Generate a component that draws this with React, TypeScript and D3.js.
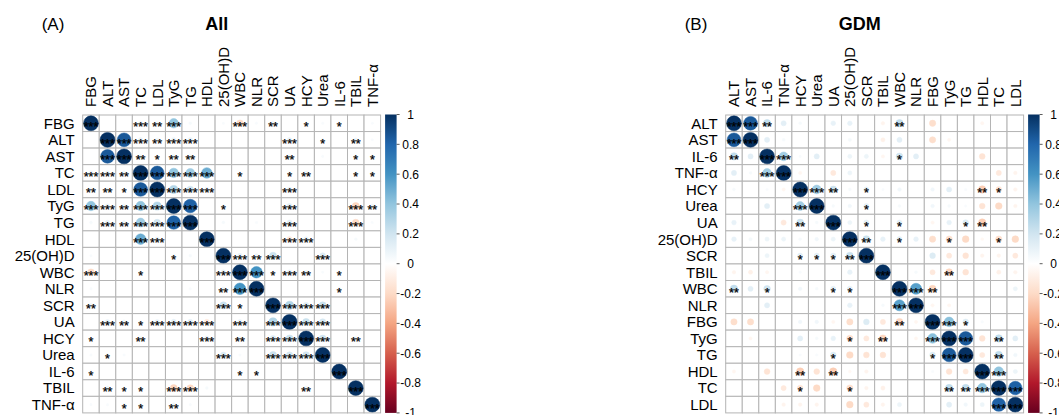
import React from "react";
import * as d3 from "d3";

// variable order of each panel
const labelsAll = ["FBG", "ALT", "AST", "TC", "LDL", "TyG", "TG", "HDL", "25(OH)D", "WBC", "NLR", "SCR", "UA", "HCY", "Urea", "IL-6", "TBIL", "TNF-α"];
const labelsGDM = ["ALT", "AST", "IL-6", "TNF-α", "HCY", "Urea", "UA", "25(OH)D", "SCR", "TBIL", "WBC", "NLR", "FBG", "TyG", "TG", "HDL", "TC", "LDL"];

// [var1, var2, r, significance]  (matrix is symmetric, diagonal = 1)
type Pair = [string, string, number, string];

const pairsAll: Pair[] = [
  ["AST", "ALT", 0.85, "***"],
  ["TC", "FBG", 0.08, "***"], ["TC", "ALT", 0.09, "***"], ["TC", "AST", 0.07, "**"],
  ["LDL", "FBG", 0.06, "**"], ["LDL", "ALT", 0.06, "**"], ["LDL", "AST", 0.05, "*"], ["LDL", "TC", 0.85, "***"],
  ["TyG", "FBG", 0.4, "***"], ["TyG", "ALT", 0.09, "***"], ["TyG", "AST", 0.07, "**"], ["TyG", "TC", 0.4, "***"], ["TyG", "LDL", 0.3, "***"],
  ["TG", "FBG", 0.04, ""], ["TG", "ALT", 0.1, "***"], ["TG", "AST", 0.07, "**"], ["TG", "TC", 0.36, "***"], ["TG", "LDL", 0.2, "***"], ["TG", "TyG", 0.82, "***"],
  ["HDL", "TC", 0.5, "***"], ["HDL", "LDL", 0.09, "***"],
  ["25(OH)D", "FBG", 0.03, ""], ["25(OH)D", "TyG", 0.05, "*"], ["25(OH)D", "TG", 0.04, ""],
  ["WBC", "FBG", -0.2, "***"], ["WBC", "TC", 0.05, "*"], ["WBC", "25(OH)D", 0.1, "***"],
  ["NLR", "FBG", 0.03, ""], ["NLR", "TG", 0.03, ""], ["NLR", "25(OH)D", 0.07, "**"], ["NLR", "WBC", 0.6, "***"],
  ["SCR", "FBG", 0.07, "**"], ["SCR", "25(OH)D", 0.22, "***"], ["SCR", "WBC", 0.05, "*"],
  ["UA", "ALT", 0.1, "***"], ["UA", "AST", 0.07, "**"], ["UA", "TC", 0.05, "*"], ["UA", "LDL", 0.1, "***"], ["UA", "TyG", 0.12, "***"],
  ["UA", "TG", 0.12, "***"], ["UA", "HDL", -0.12, "***"], ["UA", "WBC", 0.1, "***"], ["UA", "SCR", 0.3, "***"],
  ["HCY", "FBG", 0.05, "*"], ["HCY", "TC", 0.07, "**"], ["HCY", "HDL", 0.1, "***"], ["HCY", "WBC", 0.07, "**"], ["HCY", "SCR", 0.15, "***"], ["HCY", "UA", 0.22, "***"],
  ["Urea", "FBG", 0.03, ""], ["Urea", "ALT", 0.05, "*"], ["Urea", "AST", 0.03, ""], ["Urea", "25(OH)D", 0.15, "***"], ["Urea", "WBC", 0.03, ""],
  ["Urea", "SCR", 0.22, "***"], ["Urea", "UA", 0.18, "***"], ["Urea", "HCY", 0.2, "***"],
  ["IL-6", "FBG", 0.05, "*"], ["IL-6", "WBC", 0.05, "*"], ["IL-6", "NLR", 0.05, "*"],
  ["TBIL", "ALT", 0.07, "**"], ["TBIL", "AST", 0.05, "*"], ["TBIL", "TC", 0.05, "*"], ["TBIL", "TyG", -0.22, "***"], ["TBIL", "TG", -0.2, "***"],
  ["TBIL", "HDL", 0.04, ""], ["TBIL", "HCY", 0.07, "**"],
  ["TNF-α", "FBG", 0.03, ""], ["TNF-α", "ALT", 0.03, ""], ["TNF-α", "AST", 0.05, "*"], ["TNF-α", "TC", 0.05, "*"], ["TNF-α", "TyG", 0.07, "**"], ["TNF-α", "TG", 0.03, ""],
];

const pairsGDM: Pair[] = [
  ["ALT", "AST", 0.85, "***"], ["ALT", "IL-6", 0.25, "**"], ["ALT", "TNF-α", 0.12, ""], ["ALT", "HCY", 0.04, ""], ["ALT", "UA", 0.1, ""],
  ["ALT", "25(OH)D", 0.1, ""], ["ALT", "TBIL", -0.06, ""], ["ALT", "WBC", 0.25, "**"], ["ALT", "FBG", -0.18, ""], ["ALT", "HDL", -0.05, ""],
  ["AST", "IL-6", 0.12, ""], ["AST", "TNF-α", 0.04, ""], ["AST", "25(OH)D", 0.05, ""], ["AST", "TBIL", -0.08, ""], ["AST", "WBC", 0.12, ""],
  ["AST", "FBG", -0.18, ""], ["AST", "TyG", -0.05, ""],
  ["IL-6", "TNF-α", 0.35, "***"], ["IL-6", "HCY", 0.03, ""], ["IL-6", "Urea", 0.12, ""], ["IL-6", "25(OH)D", 0.08, ""], ["IL-6", "SCR", 0.08, ""],
  ["IL-6", "TBIL", -0.05, ""], ["IL-6", "WBC", 0.2, "*"], ["IL-6", "NLR", 0.12, ""], ["IL-6", "HDL", -0.15, ""],
  ["TNF-α", "HCY", -0.05, ""], ["TNF-α", "UA", -0.12, ""], ["TNF-α", "25(OH)D", 0.08, ""], ["TNF-α", "TC", -0.12, ""], ["TNF-α", "LDL", -0.06, ""],
  ["HCY", "Urea", 0.35, "***"], ["HCY", "UA", 0.22, "**"], ["HCY", "25(OH)D", 0.04, ""], ["HCY", "SCR", 0.12, "*"], ["HCY", "TBIL", 0.03, ""],
  ["HCY", "WBC", 0.06, ""], ["HCY", "FBG", 0.06, ""], ["HCY", "TyG", 0.12, ""], ["HCY", "TG", 0.03, ""], ["HCY", "HDL", -0.25, "**"],
  ["HCY", "TC", -0.15, "*"], ["HCY", "LDL", -0.06, ""],
  ["Urea", "UA", 0.04, ""], ["Urea", "25(OH)D", 0.06, ""], ["Urea", "SCR", 0.12, "*"], ["Urea", "WBC", 0.04, ""], ["Urea", "FBG", 0.06, ""],
  ["Urea", "TyG", 0.04, ""], ["Urea", "TG", 0.03, ""], ["Urea", "HDL", -0.15, ""], ["Urea", "TC", -0.2, ""], ["Urea", "LDL", -0.06, ""],
  ["UA", "25(OH)D", 0.08, ""], ["UA", "SCR", 0.12, "*"], ["UA", "WBC", 0.12, "*"], ["UA", "FBG", -0.05, ""], ["UA", "TyG", 0.1, ""],
  ["UA", "TG", 0.15, "*"], ["UA", "HDL", -0.25, "**"],
  ["25(OH)D", "SCR", 0.22, "**"], ["25(OH)D", "TBIL", 0.1, ""], ["25(OH)D", "WBC", 0.12, "*"], ["25(OH)D", "NLR", 0.1, ""], ["25(OH)D", "FBG", -0.18, ""],
  ["25(OH)D", "TyG", -0.18, "*"], ["25(OH)D", "TG", -0.2, ""], ["25(OH)D", "HDL", -0.04, ""], ["25(OH)D", "TC", -0.18, "*"], ["25(OH)D", "LDL", -0.2, ""],
  ["SCR", "FBG", 0.15, ""], ["SCR", "TyG", -0.12, ""], ["SCR", "TG", -0.15, ""], ["SCR", "HDL", -0.06, ""], ["SCR", "TC", -0.06, ""], ["SCR", "LDL", -0.12, ""],
  ["TBIL", "NLR", 0.04, ""], ["TBIL", "FBG", -0.12, ""], ["TBIL", "TyG", -0.22, "**"], ["TBIL", "TG", -0.15, ""], ["TBIL", "TC", -0.08, ""], ["TBIL", "LDL", -0.06, ""],
  ["WBC", "NLR", 0.55, "***"], ["WBC", "FBG", -0.22, "**"], ["WBC", "LDL", 0.08, ""],
  ["NLR", "FBG", -0.05, ""], ["NLR", "TyG", -0.05, ""],
  ["FBG", "TyG", 0.42, "***"], ["FBG", "TG", 0.15, "*"], ["FBG", "HDL", 0.03, ""],
  ["TyG", "TG", 0.85, "***"], ["TyG", "HDL", -0.15, ""], ["TyG", "TC", 0.25, "**"], ["TyG", "LDL", 0.12, ""],
  ["TG", "HDL", -0.12, ""], ["TG", "TC", 0.25, "**"], ["TG", "LDL", 0.06, ""],
  ["HDL", "TC", 0.4, "***"], ["HDL", "LDL", 0.08, ""],
  ["TC", "LDL", 0.82, "***"],
];

const legendTicks = [-1, -0.8, -0.6, -0.4, -0.2, 0, 0.2, 0.4, 0.6, 0.8, 1];

// corrplot RdBu palette
const paletteStops = [-1, -0.8, -0.6, -0.4, -0.2, 0, 0.2, 0.4, 0.6, 0.8, 1];
const paletteColors = ["#67001F", "#B2182B", "#D6604D", "#F4A582", "#FDDBC7", "#FFFFFF", "#D1E5F0", "#92C5DE", "#4393C3", "#2166AC", "#053061"];

const FONT = "'Liberation Sans', Arial, Helvetica, sans-serif";
const CELL = 16.55;
const TOP = 115;

const color = d3.scaleLinear<string>().domain(paletteStops).range(paletteColors);

function buildMatrix(labels: string[], pairs: Pair[]) {
  const idx = new Map(labels.map((l, i) => [l, i]));
  const r = labels.map((_, i) => labels.map((__, j) => (i === j ? 1 : 0)));
  const s = labels.map((_, i) => labels.map((__, j) => (i === j ? "***" : "")));
  pairs.forEach(([a, b, v, sig]) => {
    const i = idx.get(a)!, j = idx.get(b)!;
    r[i][j] = v; r[j][i] = v;
    s[i][j] = sig; s[j][i] = sig;
  });
  return { r, s };
}

const CorrPanel = ({ labels, pairs, left, tag, title, id }: { labels: string[]; pairs: Pair[]; left: number; tag: string; title: string; id: string }) => {
  const n = labels.length;
  const size = n * CELL;
  const { r, s } = buildMatrix(labels, pairs);

  const x = d3.scaleBand().domain(labels).range([left, left + size]);
  const y = d3.scaleBand().domain(labels).range([TOP, TOP + size]);
  const rad = d3.scaleSqrt().domain([0, 1]).range([0, 0.45 * CELL]);

  // colour legend
  const barX = left + size + 4.5;
  const barW = 11.5;
  const legendY = d3.scaleLinear().domain([-1, 1]).range([TOP + size, TOP - 0.5]);

  const cx = (l: string) => x(l)! + x.bandwidth() / 2;
  const cy = (l: string) => y(l)! + y.bandwidth() / 2;

  return (
    <g>
      <defs>
        <linearGradient id={id} x1="0" y1="1" x2="0" y2="0">
          {d3.range(0, 1.0001, 0.05).map((t) => (
            <stop key={t} offset={t} stopColor={color(-1 + 2 * t)} />
          ))}
        </linearGradient>
      </defs>

      <text x={left - 41} y={30} fontSize={17} fontFamily={FONT}>{tag}</text>
      <text x={left + size / 2 - 15} y={30} fontSize={18} fontWeight="bold" textAnchor="middle" fontFamily={FONT}>{title}</text>

      {/* grid */}
      {labels.map((row) =>
        labels.map((col) => (
          <rect key={row + col} x={x(col)} y={y(row)} width={x.bandwidth()} height={y.bandwidth()} fill="white" stroke="#b4b4b4" strokeWidth={1} />
        ))
      )}

      {/* circles */}
      {labels.map((row, i) =>
        labels.map((col, j) => {
          const v = r[i][j];
          return (
            <circle key={"c" + row + col} cx={cx(col)} cy={cy(row)} r={rad(Math.abs(v))} fill={color(v)} stroke={color(v)} strokeWidth={0.5} />
          );
        })
      )}

      {/* significance stars */}
      {labels.map((row, i) =>
        labels.map((col, j) =>
          s[i][j] ? (
            <text key={"s" + row + col} x={cx(col)} y={cy(row) + 8} fontSize={12.5} textAnchor="middle" fontFamily={FONT} fill="#000" stroke="#000" strokeWidth={0.25}>
              {s[i][j]}
            </text>
          ) : null
        )
      )}

      {/* row labels */}
      {labels.map((l) => (
        <text key={"r" + l} x={left - 8} y={cy(l)} dy="0.36em" fontSize={15} textAnchor="end" fontFamily={FONT}>{l}</text>
      ))}

      {/* column labels */}
      {labels.map((l) => (
        <text key={"k" + l} transform={`translate(${cx(l)},${TOP - 8}) rotate(-90)`} dy="0.36em" fontSize={15} fontFamily={FONT}>{l}</text>
      ))}

      {/* colour bar */}
      <rect x={barX} y={TOP - 0.5} width={barW} height={size + 0.5} fill={`url(#${id})`} />
      {legendTicks.map((t) => (
        <g key={"t" + t}>
          <line x1={barX + barW} x2={barX + barW + 3} y1={legendY(t)} y2={legendY(t)} stroke="#333" strokeWidth={0.8} />
          <text x={barX + barW + 14} y={legendY(t)} dy="0.36em" fontSize={12} textAnchor="middle" fontFamily={FONT}>{String(t)}</text>
        </g>
      ))}
    </g>
  );
};

export default function App() {
  return (
    <svg width={1059} height={415} style={{ position: "absolute", left: 0, top: 0, background: "white" }}>
      <rect width={1059} height={415} fill="white" />
      <CorrPanel labels={labelsAll} pairs={pairsAll} left={82.7} tag="(A)" title="All" id="gradA" />
      <CorrPanel labels={labelsGDM} pairs={pairsGDM} left={725.7} tag="(B)" title="GDM" id="gradB" />
    </svg>
  );
}
